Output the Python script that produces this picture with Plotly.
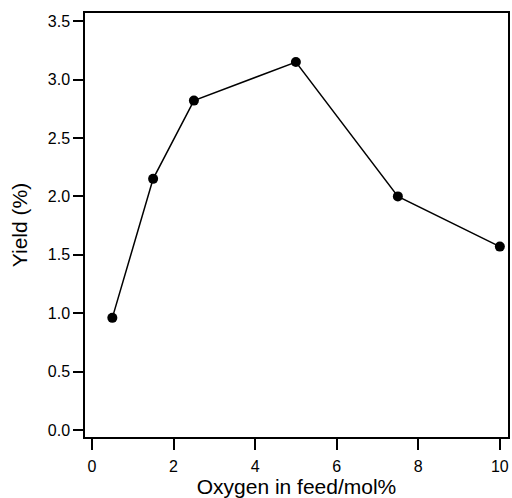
import plotly.graph_objects as go

oxygen = [0.5, 1.5, 2.5, 5.0, 7.5, 10.0]
yield_pct = [0.96, 2.15, 2.82, 3.15, 2.0, 1.57]
x_ticks = [0, 2, 4, 6, 8, 10]
y_ticks = [0.0, 0.5, 1.0, 1.5, 2.0, 2.5, 3.0, 3.5]

fig = go.Figure()
fig.add_trace(go.Scatter(
    x=oxygen, y=yield_pct, mode="lines+markers",
    line=dict(color="black", width=1.5),
    marker=dict(color="black", size=10),
    cliponaxis=False, showlegend=False, hoverinfo="skip",
))

font = "Liberation Sans, Arial, Helvetica, sans-serif"
fig.update_layout(
    width=512, height=498,
    margin=dict(l=85, r=4, t=13, b=61),
    paper_bgcolor="white", plot_bgcolor="white",
    font=dict(family=font, color="black", size=16),
)
fig.update_xaxes(
    range=[-0.17, 10.2], tickvals=x_ticks, ticktext=[str(v) for v in x_ticks],
    showline=True, linecolor="black", linewidth=1.5, mirror=True,
    ticks="outside", ticklen=11, tickwidth=1.5, tickcolor="black",
    showgrid=False, zeroline=False, automargin=False,
    ticklabelstandoff=3,
    title=dict(text="Oxygen in feed/mol%", font=dict(size=21), standoff=2),
    tickfont=dict(size=16),
)
fig.update_yaxes(
    range=[-0.06, 3.57], tickvals=y_ticks, ticktext=[f"{v:.1f}" for v in y_ticks],
    showline=True, linecolor="black", linewidth=1.5, mirror=True,
    ticks="outside", ticklen=10, tickwidth=1.5, tickcolor="black",
    showgrid=False, zeroline=False, automargin=False,
    title=dict(text="Yield (%)", font=dict(size=21), standoff=14),
    tickfont=dict(size=16),
)
fig.write_html(
    "out.html",
    config={"displayModeBar": False},
    post_script="document.body.style.margin='0';document.body.style.overflow='hidden';",
)
